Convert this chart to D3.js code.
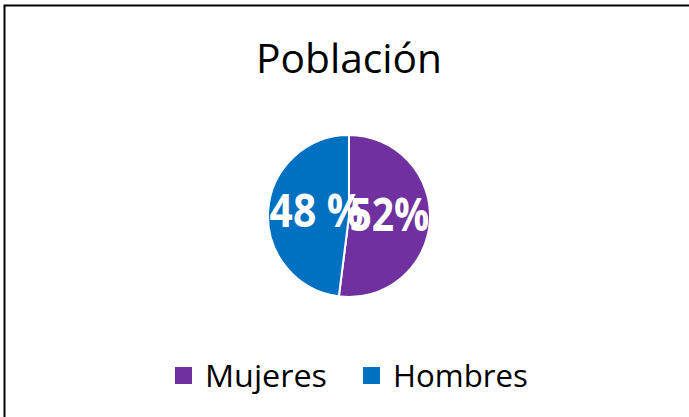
<!DOCTYPE html>
<html>

<head>
  <title>Población</title>
  <style>
    body { margin: 0; }
  </style>
</head>

<body>
  <svg id="svg"></svg>

  <script src="https://d3js.org/d3.v7.min.js"></script>
  <script>
    let width = 689, height = 417;

    let categories = ["Mujeres", "Hombres"];
    let values = [52, 48];
    let labels = ["52%", "48 %"];
    let colors = ["#7030A0", "#0070C0"];

    let font = "'Open Sans', 'Noto Sans', sans-serif";

    let svg = d3.select("#svg")
      .attr("width", width)
      .attr("height", height);

    // frame (right and bottom edges fall outside the picture)
    svg.append("rect")
      .attr("x", 4.5).attr("y", 5.5)
      .attr("width", width + 20).attr("height", height + 20)
      .attr("fill", "white")
      .attr("stroke", "black")
      .attr("stroke-width", 2);

    svg.append("text")
      .attr("x", 256).attr("y", 73)
      .attr("font-family", font)
      .attr("font-size", 41)
      .attr("textLength", 186)
      .attr("lengthAdjust", "spacingAndGlyphs")
      .attr("fill", "black")
      .text("Población");

    let cx = 349, cy = 216, r = 81;
    let data = categories.map((c, i) => ({ name: c, value: values[i], label: labels[i], color: colors[i] }));

    let pie = d3.pie().sort(null).value(d => d.value);
    let arc = d3.arc().innerRadius(0).outerRadius(r);
    let arcs = pie(data);

    let g = svg.append("g").attr("transform", `translate(${cx}, ${cy})`);

    g.selectAll("path")
      .data(arcs)
      .join("path")
      .attr("d", arc)
      .attr("fill", d => d.data.color)
      .attr("stroke", "white")
      .attr("stroke-width", 2);

    let labelArc = d3.arc().innerRadius(r * 0.45).outerRadius(r * 0.45);
    let labelWidths = [80, 94];
    g.selectAll("text.lab")
      .data(arcs)
      .join("text")
      .attr("class", "lab")
      .attr("x", (d, i) => labelArc.centroid(d)[0] + 4 - labelWidths[i] / 2)
      .attr("y", d => labelArc.centroid(d)[1] + 13)
      .attr("font-family", font)
      .attr("font-weight", "bold")
      .attr("font-size", 46)
      .attr("textLength", (d, i) => labelWidths[i])
      .attr("lengthAdjust", "spacingAndGlyphs")
      .attr("fill", "white")
      .text(d => d.data.label);

    let legend = svg.append("g");
    let lx = [175, 363];
    let lw = [122, 135];
    categories.forEach((c, i) => {
      legend.append("rect")
        .attr("x", lx[i]).attr("y", 367)
        .attr("width", 17).attr("height", 17)
        .attr("fill", colors[i]);
      legend.append("text")
        .attr("x", lx[i] + 30).attr("y", 387)
        .attr("font-family", font)
        .attr("font-size", 31)
        .attr("textLength", lw[i])
        .attr("lengthAdjust", "spacingAndGlyphs")
        .attr("fill", "black")
        .text(c);
    });
  </script>
</body>

</html>
